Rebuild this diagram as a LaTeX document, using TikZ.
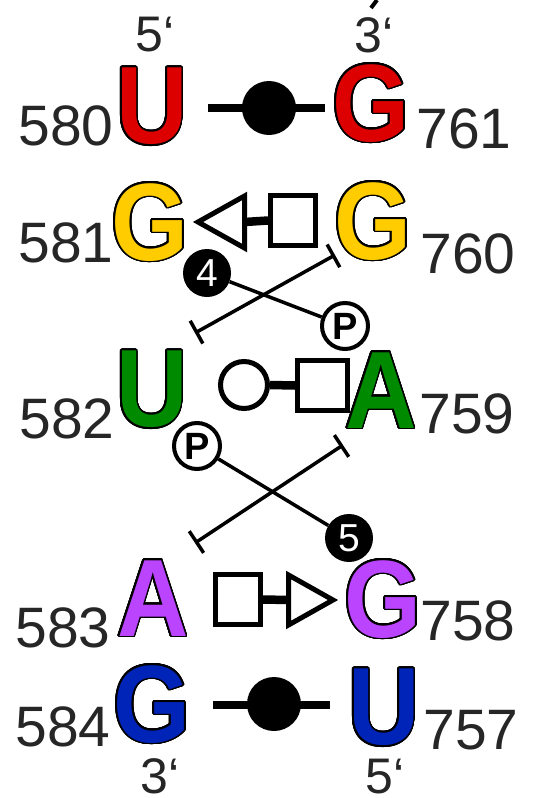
\documentclass[tikz,border=0pt]{standalone}
\usepackage{fontspec}
\setmainfont{Liberation Sans}
\newfontfamily\ntfont{Liberation Sans Bold}[FakeStretch=0.9]
\usepackage[copies]{contour}
\usetikzlibrary{arrows.meta}
\definecolor{ntred}{HTML}{DD0000}
\definecolor{ntyellow}{HTML}{FFCC00}
\definecolor{ntgreen}{HTML}{008A00}
\definecolor{ntpurple}{HTML}{BB44FF}
\definecolor{ntblue}{HTML}{0024B8}
\definecolor{numgray}{HTML}{262626}
\contourlength{1.6pt}
\contournumber{32}
\begin{document}
\begin{tikzpicture}[x=1pt,y=-1pt,
  nt/.style={inner sep=0pt, font=\fontsize{110}{110}\ntfont},
  num/.style={inner sep=0pt, text=numgray, font=\fontsize{57}{57}\selectfont},
  primelbl/.style={inner sep=0pt, text=numgray, font=\fontsize{50}{50}\selectfont},
  thickbar/.style={line width=8.5pt},
  sym/.style={draw=black, line width=5pt, fill=white, inner sep=0pt},
  sqbox/.style={sym, rectangle, minimum width=45pt, minimum height=50pt},
  ocirc/.style={sym, circle, minimum size=47pt},
  dot/.style={circle, fill=black, inner sep=0pt, minimum size=54pt},
  numdot/.style={circle, fill=black, inner sep=0pt, minimum size=48pt, text=white, font=\fontsize{39}{39}\selectfont},
  pcirc/.style={circle, draw=black, line width=4pt, fill=white, inner sep=0pt, minimum size=46pt, font=\fontsize{38}{38}\selectfont\bfseries},
  tline/.style={line width=3.5pt, {Bar[width=26pt]}-{Bar[width=26pt]}},
  link/.style={line width=3.5pt},
  tri/.style={draw=black, line width=5pt, fill=white, line join=miter}
]
\useasboundingbox (0,0) rectangle (550,798);

% small cropped mark at the top
\coordinate (mka) at (371,8);
\coordinate (mkb) at (377,0);
\draw[line width=4pt] (mka) -- (mkb);

% 5'/3' labels
\node[primelbl] (p5top) at (155,35) {5‘};
\node[primelbl] (p3top) at (374,35) {3‘};
\node[primelbl] (p3bot) at (160,776) {3‘};
\node[primelbl] (p5bot) at (385,777) {5‘};

% nucleotides
\node[nt, text=ntred] (U580) at (152,107) {\contour{black}{U}};
\node[nt, text=ntred] (G761) at (371,104) {\contour{black}{G}};
\node[nt, text=ntyellow] (G581) at (150,223) {\contour{black}{G}};
\node[nt, text=ntyellow] (G760) at (373,222) {\contour{black}{G}};
\node[nt, text=ntgreen] (U582) at (152,390) {\contour{black}{U}};
\node[nt, text=ntgreen] (A759) at (381,391) {\contour{black}{A}};
\node[nt, text=ntpurple] (A583) at (153,599) {\contour{black}{A}};
\node[nt, text=ntpurple] (G758) at (383,600) {\contour{black}{G}};
\node[nt, text=ntblue] (G584) at (152,705) {\contour{black}{G}};
\node[nt, text=ntblue] (U757) at (384,708) {\contour{black}{U}};

% numbers
\node[num] (n580) at (66,126) {580};
\node[num] (n761) at (464,129) {761};
\node[num] (n581) at (66,243) {581};
\node[num] (n760) at (468,254) {760};
\node[num] (n582) at (67,419) {582};
\node[num] (n759) at (467,414) {759};
\node[num] (n583) at (63,628) {583};
\node[num] (n758) at (468,621) {758};
\node[num] (n584) at (63,727) {584};
\node[num] (n757) at (471,730) {757};

% row 1: U580 - G761
\coordinate (r1a) at (208,108);
\coordinate (r1b) at (325,108);
\draw[thickbar] (r1a) -- (r1b);
\node[dot] (d1) at (269,108) {};

% row 2: G581 <| [] G760
\node[sqbox] (sq2) at (293,220.5) {};
\coordinate (t2tip) at (198,222);
\coordinate (t2up) at (244.5,196);
\coordinate (t2dn) at (244.5,248);
\coordinate (t2b) at (244.5,222);
\draw[thickbar] (t2b) -- (sq2.west);
\draw[tri] (t2tip) -- (t2up) -- (t2dn) -- cycle;

% row 3: U582 o-[] A759
\node[ocirc] (c3) at (244,385) {};
\node[sqbox, minimum width=50pt] (sq3) at (322.5,385.5) {};
\draw[thickbar] (c3.east) -- (sq3.west);

% row 4: A583 []-|> G758
\node[sqbox] (sq4) at (238,599.5) {};
\coordinate (t4b) at (288.5,600);
\coordinate (t4up) at (288.5,575);
\coordinate (t4dn) at (288.5,625);
\coordinate (t4tip) at (333,600);
\draw[thickbar] (sq4.east) -- (t4b);
\draw[tri] (t4tip) -- (t4up) -- (t4dn) -- cycle;

% row 5: G584 - U757
\coordinate (r5a) at (213,705);
\coordinate (r5b) at (330,705);
\draw[thickbar] (r5a) -- (r5b);
\node[dot] (d5) at (274,704) {};

% upper crossing
\coordinate (x1a) at (195,333);
\coordinate (x1b) at (335,255);
\draw[tline] (x1a) -- (x1b);
\node[numdot] (c4) at (207,273) {4};
\node[pcirc] (pu) at (345,326) {P};
\draw[link] (c4) -- (pu);

% lower crossing
\coordinate (x2a) at (195,543);
\coordinate (x2b) at (343,445);
\draw[tline] (x2a) -- (x2b);
\node[pcirc] (pl) at (197,446) {P};
\node[numdot] (c5) at (349,538) {5};
\draw[link] (pl) -- (c5);
\end{tikzpicture}
\end{document}
